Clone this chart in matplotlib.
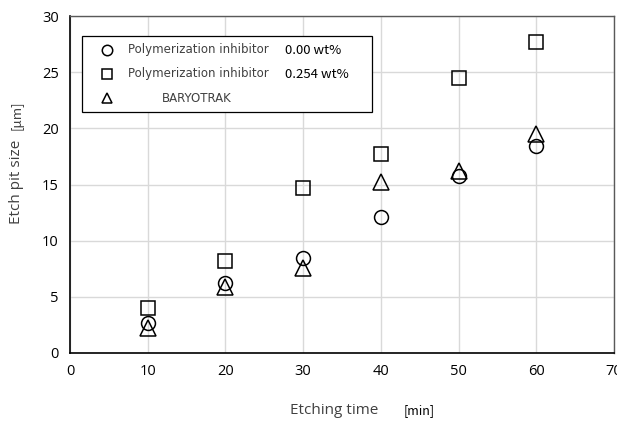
import matplotlib
matplotlib.use("Agg")
import matplotlib.pyplot as plt
from matplotlib.lines import Line2D
from matplotlib.patches import Rectangle

time_min = [10, 20, 30, 40, 50, 60]
inhib_000 = [2.7, 6.2, 8.5, 12.1, 15.8, 18.4]
inhib_0254 = [4.0, 8.2, 14.7, 17.7, 24.5, 27.7]
baryotrak = [2.2, 5.9, 7.6, 15.2, 16.2, 19.5]

legend_names = ["Polymerization inhibitor", "Polymerization inhibitor", "BARYOTRAK"]
legend_conc = ["0.00 wt%", "0.254 wt%", ""]
legend_markers = ["o", "s", "^"]
x_ticks = [0, 10, 20, 30, 40, 50, 60, 70]
y_ticks = [0, 5, 10, 15, 20, 25, 30]

W, H = 617, 421
fig = plt.figure(figsize=(6.17, 4.21), dpi=100)
ax = fig.add_axes([70/W, 1-353/H, 544/W, 337/H])

mk = dict(linestyle="none", markerfacecolor="none", markeredgecolor="black",
          markeredgewidth=1.1)
ax.plot(time_min, inhib_000, marker="o", markersize=10, clip_on=False, **mk)
ax.plot(time_min, inhib_0254, marker="s", markersize=10, clip_on=False, **mk)
ax.plot(time_min, baryotrak, marker="^", markersize=11, clip_on=False, **mk)

ax.set_xlim(0, 70)
ax.set_ylim(0, 30)
ax.set_xticks(x_ticks)
ax.set_yticks(y_ticks)
ax.grid(True, color="#d9d9d9", linewidth=1)
ax.set_axisbelow(True)
ax.tick_params(length=0, labelsize=10.5, pad=8, colors="black")
for lab in ax.get_xticklabels() + ax.get_yticklabels():
    lab.set_fontfamily("Open Sans")
for s in ["left", "bottom"]:
    ax.spines[s].set_color("black")
    ax.spines[s].set_linewidth(1.2)
for s in ["top", "right"]:
    ax.spines[s].set_color("#595959")
    ax.spines[s].set_linewidth(1.0)

# axis labels
fig.text(17/W, 1-182/H, "Etch pit size", rotation=90, ha="center", va="center",
         fontsize=11, color="#404040", family="Open Sans")
fig.text(17/W, 1-115/H, "[μm]", rotation=90, ha="center", va="center",
         fontsize=9.5, color="#404040", family=["Noto Sans CJK JP", "DejaVu Sans"])
fig.text(334/W, 1-411/H, "Etching time", ha="center", va="center",
         fontsize=11, color="#404040", family="Open Sans")
fig.text(419/W, 1-411/H, "[min]", ha="center", va="center",
         fontsize=9, color="black", family=["Noto Sans CJK JP", "DejaVu Sans"])

# legend (drawn manually in figure pixel coordinates)
fig.patches.append(Rectangle((82/W, 1-112/H), 290/W, 76/H, transform=fig.transFigure,
                             facecolor="white", edgecolor="black", linewidth=0.9, zorder=5))
row_y = [50, 74, 98]
for i in range(3):
    yy = 1 - row_y[i]/H
    fig.add_artist(Line2D([107/W], [yy], marker=legend_markers[i], markersize=7.5,
                          transform=fig.transFigure, zorder=6, **mk))
    if legend_conc[i]:
        fig.text(128/W, yy, legend_names[i], ha="left", va="center", fontsize=8.5,
                 color="#404040", family="DejaVu Sans", zorder=6)
        fig.text(285/W, yy, legend_conc[i], ha="left", va="center", fontsize=9.5,
                 family=["Noto Sans CJK JP", "DejaVu Sans"], color="black", zorder=6)
    else:
        fig.text(162/W, yy, legend_names[i], ha="left", va="center", fontsize=8.5,
                 color="#404040", family="DejaVu Sans", zorder=6)

fig.savefig("out.png", dpi=100)
